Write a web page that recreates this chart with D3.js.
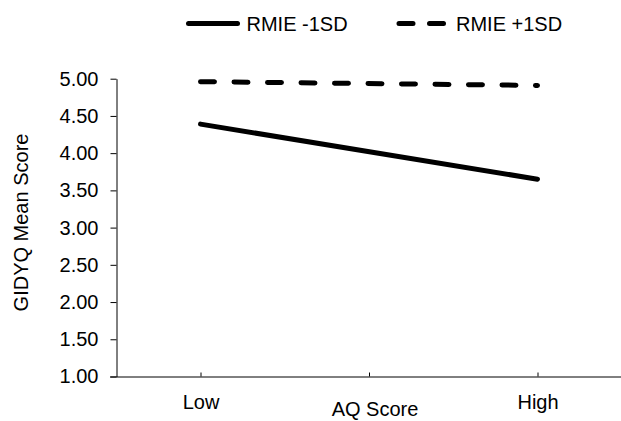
<!DOCTYPE html>
<html>
<head>
<meta charset="utf-8">
<script src="https://cdn.jsdelivr.net/npm/d3@7"></script>
<style>
  body { margin: 0; background: #fff; }
  text { font-family: "Liberation Sans", Arial, sans-serif; fill: #000; }
</style>
</head>
<body>
<svg id="chart" width="621" height="421"></svg>
<script>
// data
const xCategories = ["Low", "High"];
const xPositions = [1, 3];
const xTickValues = [1, 2, 3];
const seriesNames = ["RMIE -1SD", "RMIE +1SD"];
const rmieMinus = [4.39, 3.65];
const rmiePlus = [4.96, 4.91];
const yTicks = [1.00, 1.50, 2.00, 2.50, 3.00, 3.50, 4.00, 4.50, 5.00];

const svg = d3.select("#chart");
const fontSize = 20;

const x = d3.scaleLinear().domain([0.5, 3.5]).range([116.25, 621.75]);
const y = d3.scaleLinear().domain([1, 5]).range([376.5, 78.7]);

// y axis
const yAxis = svg.append("g")
  .attr("transform", "translate(116.5,0)")
  .call(d3.axisLeft(y).tickValues(yTicks).tickSize(6).tickSizeOuter(0).tickFormat(d3.format(".2f")));
yAxis.select(".domain").attr("stroke", "#000");
yAxis.selectAll(".tick line").attr("stroke", "#000");
yAxis.selectAll(".tick text")
  .attr("x", -18)
  .attr("font-size", fontSize)
  .attr("font-family", "Liberation Sans, Arial, sans-serif");

// x axis
const xAxis = svg.append("g")
  .attr("transform", "translate(0,376.5)")
  .call(d3.axisBottom(x).tickValues(xTickValues).tickSize(-4).tickSizeOuter(0)
    .tickFormat(d => { const i = xPositions.indexOf(d); return i >= 0 ? xCategories[i] : ""; }));
xAxis.select(".domain").attr("stroke", "#000").attr("d", "M110,0.5H621");
xAxis.selectAll(".tick line").attr("stroke", "#000");
xAxis.selectAll(".tick text")
  .attr("y", 18)
  .attr("dy", "0.71em")
  .attr("font-size", fontSize)
  .attr("font-family", "Liberation Sans, Arial, sans-serif");

// axis titles
svg.append("text")
  .attr("x", 375).attr("y", 416)
  .attr("text-anchor", "middle")
  .attr("font-size", fontSize)
  .text("AQ Score");

svg.append("text")
  .attr("transform", "translate(28,222.5) rotate(-90)")
  .attr("text-anchor", "middle")
  .attr("font-size", fontSize)
  .text("GIDYQ Mean Score");

// series lines
const line = d3.line().x((d, i) => x(xPositions[i])).y(d => y(d));
const series = [
  { name: seriesNames[0], values: rmieMinus, dash: null },
  { name: seriesNames[1], values: rmiePlus, dash: "14,19.5" }
];

svg.append("g").selectAll("path")
  .data(series)
  .enter().append("path")
    .attr("d", d => line(d.values))
    .attr("fill", "none")
    .attr("stroke", "#000")
    .attr("stroke-width", 5)
    .attr("stroke-linecap", "round")
    .attr("stroke-dasharray", d => d.dash);

// legend
const legendX = [188.5, 399];
const legend = svg.append("g").selectAll("g")
  .data(series)
  .enter().append("g")
    .attr("transform", (d, i) => "translate(" + legendX[i] + ",23.5)");

legend.append("line")
  .attr("x1", 0).attr("x2", (d, i) => i === 0 ? 49 : 46)
  .attr("stroke", "#000")
  .attr("stroke-width", 5)
  .attr("stroke-linecap", "round")
  .attr("stroke-dasharray", (d, i) => i === 0 ? null : "14,16.5");

legend.append("text")
  .attr("x", (d, i) => i === 0 ? 58 : 57)
  .attr("dy", "0.35em")
  .attr("font-size", fontSize)
  .text(d => d.name);
</script>
</body>
</html>
